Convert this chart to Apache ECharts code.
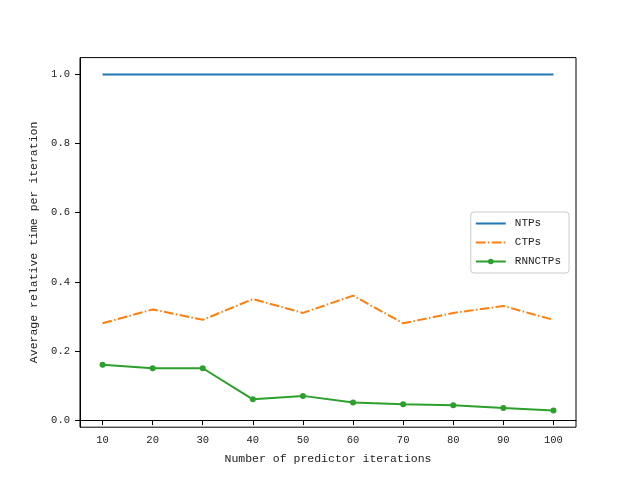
<!DOCTYPE html>
<html><head><meta charset="utf-8">
<script src="https://cdn.jsdelivr.net/npm/echarts@6/dist/echarts.min.js"></script>
<style>html,body{margin:0;padding:0;background:#fff}#c{width:640px;height:480px}</style>
</head><body><div id="c"></div>
<script>
const iterations = [10, 20, 30, 40, 50, 60, 70, 80, 90, 100];
const ntps = [1.0, 1.0, 1.0, 1.0, 1.0, 1.0, 1.0, 1.0, 1.0, 1.0];
const ctps = [0.28, 0.32, 0.29, 0.35, 0.31, 0.36, 0.28, 0.31, 0.33, 0.29];
const rnnctps = [0.16, 0.15, 0.15, 0.06, 0.07, 0.051, 0.046, 0.043, 0.035, 0.028];
const yTicks = [0.0, 0.2, 0.4, 0.6, 0.8, 1.0];

const FONT = 'Liberation Mono';
const pair = arr => iterations.map((x, i) => [x, arr[i]]);
const chart = echarts.init(document.getElementById('c'));
chart.setOption({
  animation: false,
  backgroundColor: '#fff',
  grid: { left: 80, right: 64, top: 57.6, bottom: 52.8, show: true, borderColor: '#000', borderWidth: 1, backgroundColor: 'transparent' },
  xAxis: {
    type: 'value', min: 5.5, max: 104.5,
    name: 'Number of predictor iterations', nameLocation: 'middle', nameGap: 26,
    nameTextStyle: { fontFamily: FONT, fontSize: 11.5, color: '#222' },
    axisLine: { show: true, lineStyle: { color: '#000', width: 1 } },
    axisTick: { show: true, inside: false, length: 5, customValues: iterations, lineStyle: { color: '#000' } },
    axisLabel: { customValues: iterations, fontFamily: FONT, fontSize: 10.5, color: '#222', margin: 8 },
    splitLine: { show: false }
  },
  yAxis: {
    type: 'value', min: -0.0206, max: 1.0486,
    name: 'Average relative time per iteration', nameLocation: 'middle', nameGap: 29,
    nameTextStyle: { fontFamily: FONT, fontSize: 11.5, color: '#222' },
    axisLine: { show: true, lineStyle: { color: '#000', width: 1 } },
    axisTick: { show: true, inside: false, length: 5, customValues: yTicks, lineStyle: { color: '#000' } },
    axisLabel: { customValues: yTicks, formatter: v => v.toFixed(1), fontFamily: FONT, fontSize: 10.5, color: '#222', margin: 10 },
    splitLine: { show: false }
  },
  legend: {
    orient: 'vertical', right: 71, top: 212,
    itemWidth: 30, itemHeight: 7, itemGap: 8,
    padding: [6, 8, 6, 4],
    backgroundColor: 'rgba(255,255,255,0.8)', borderColor: '#cccccc', borderWidth: 1, borderRadius: 3,
    textStyle: { fontFamily: FONT, fontSize: 11, color: '#222', padding: [0, 0, 0, 4] },
    data: [
      { name: 'NTPs', itemStyle: { opacity: 0 } },
      { name: 'CTPs', itemStyle: { opacity: 0 } },
      { name: 'RNNCTPs' }
    ]
  },
  series: [
    { name: 'NTPs', type: 'line', data: pair(ntps), symbol: 'none',
      itemStyle: { color: '#1f77b4' }, lineStyle: { color: '#1f77b4', width: 2 } },
    { name: 'CTPs', type: 'line', data: pair(ctps), symbol: 'none',
      itemStyle: { color: '#ff7f0e' }, lineStyle: { color: '#ff7f0e', width: 2, type: [9.6, 2.4, 1.5, 2.4] } },
    { name: 'RNNCTPs', type: 'line', data: pair(rnnctps), symbol: 'circle', symbolSize: 6,
      itemStyle: { color: '#2ca02c' }, lineStyle: { color: '#2ca02c', width: 2 } }
  ]
});
</script></body></html>
